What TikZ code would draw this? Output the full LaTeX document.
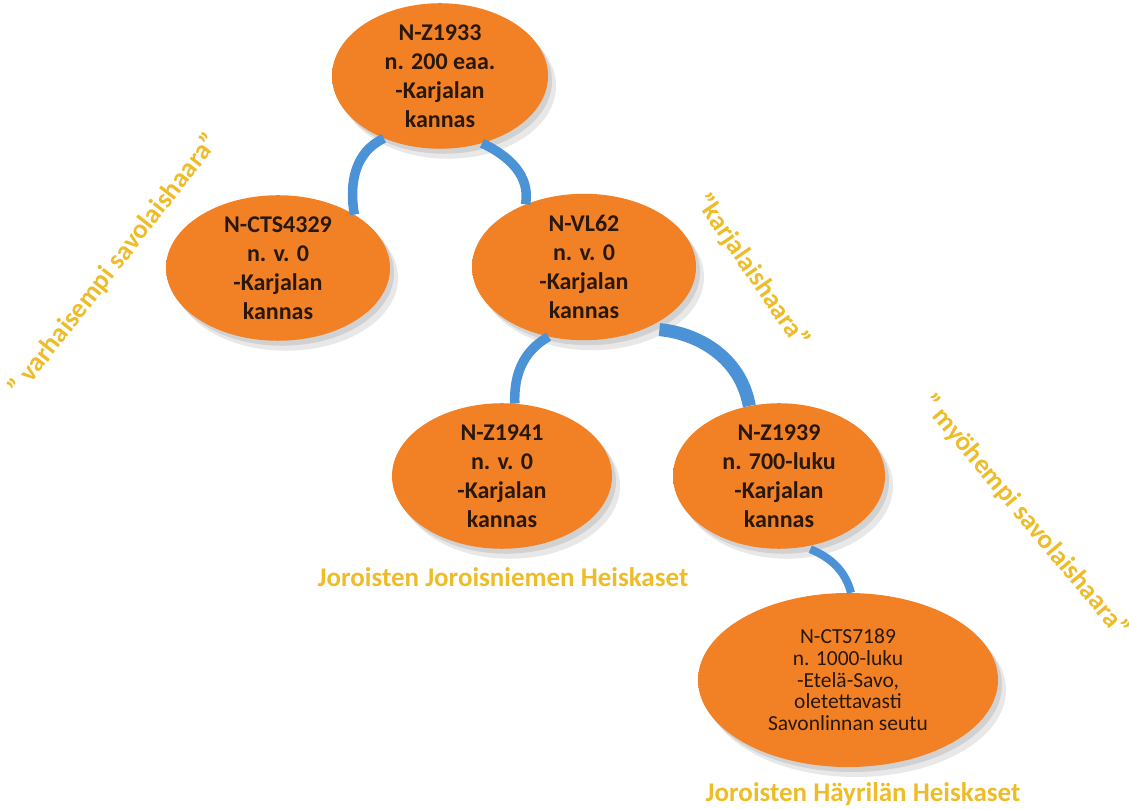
\documentclass[tikz,border=0pt]{standalone}
\usepackage{fontspec}
\setmainfont{Carlito}
\usetikzlibrary{shapes.geometric,shadows}
\definecolor{hgorange}{RGB}{242,128,36}
\definecolor{hgrim}{RGB}{252,182,44}
\definecolor{hggold}{RGB}{238,188,40}
\definecolor{hgblue}{RGB}{76,146,214}
\definecolor{hgtext}{RGB}{40,24,10}
\pgfdeclareradialshading{hgglow}{\pgfpoint{0bp}{0bp}}{color(0bp)=(hgorange); color(44bp)=(hgorange); color(49bp)=(hgrim); color(50bp)=(hgrim)}

\begin{document}
\begin{tikzpicture}[x=1pt,y=1pt,
  hap/.style={ellipse,shade,shading=hgglow,inner sep=0pt,align=center,
    drop shadow={shadow xshift=8pt,shadow yshift=-10pt,opacity=0.18},
    drop shadow={shadow xshift=4pt,shadow yshift=-5pt,opacity=0.22},
    text=hgtext,font=\bfseries\fontsize{24}{29}\selectfont,
    minimum width=220pt,minimum height=128pt},
  branch/.style={draw=hgblue,line width=9.5pt},
  haara/.style={text=hggold,font=\bfseries\fontsize{27}{30}\selectfont,inner sep=0pt}]
  \useasboundingbox (0,0) rectangle (1129,808);

  % haplogroups
  \node [hap,minimum width=216pt,minimum height=126pt] (z1933) at (440,732)
    {N-Z1933\\n. 200 eaa.\\-Karjalan\\kannas};
  \node [hap,minimum width=224pt] (cts4329) at (278,540)
    {N-CTS4329\\n. v. 0\\-Karjalan\\kannas};
  \node [hap,minimum width=224pt,minimum height=130pt] (vl62) at (584,541)
    {N-VL62\\n. v. 0\\-Karjalan\\kannas};
  \node [hap] (z1941) at (502,332)
    {N-Z1941\\n. v. 0\\-Karjalan\\kannas};
  \node [hap,minimum width=212pt] (z1939) at (779,332)
    {N-Z1939\\n. 700-luku\\-Karjalan\\kannas};
  \node [hap,minimum width=300pt,minimum height=174pt,
    font=\fontsize{21.5}{21.7}\selectfont] (cts7189) at (848,128)
    {N-CTS7189\\n. 1000-luku\\-Etelä-Savo,\\oletettavasti\\Savonlinnan seutu};

  % branches
  \draw [branch] (z1933.228) to [out=205,in=100] (cts4329.35);
  \draw [branch] (z1933.302) to [out=-25,in=80] (vl62.133);
  \draw [branch] (vl62.243) to [out=210,in=92] (z1941.80);
  \draw [branch,line width=13pt,shorten <=14pt] (vl62.-45) to [out=-5,in=100] (z1939.113);
  \draw [branch,line width=8pt,shorten <=6pt] (z1939.290) to [out=-23,in=105] (cts7189.88);

  % labels
  \node [haara,rotate=52] (varh) at (114,543) {” varhaisempi savolaishaara”};
  \node [haara,rotate=-55.5] (karj) at (752,537) {”karjalaishaara”};
  \node [haara,rotate=-50,anchor=west] (myoh) at (926,410) {” myöhempi savolaishaara”};
  \node [haara] (jjh) at (503,231) {Joroisten Joroisniemen Heiskaset};
  \node [haara] (jhh) at (863,14) {Joroisten Häyrilän Heiskaset};
\end{tikzpicture}
\end{document}
